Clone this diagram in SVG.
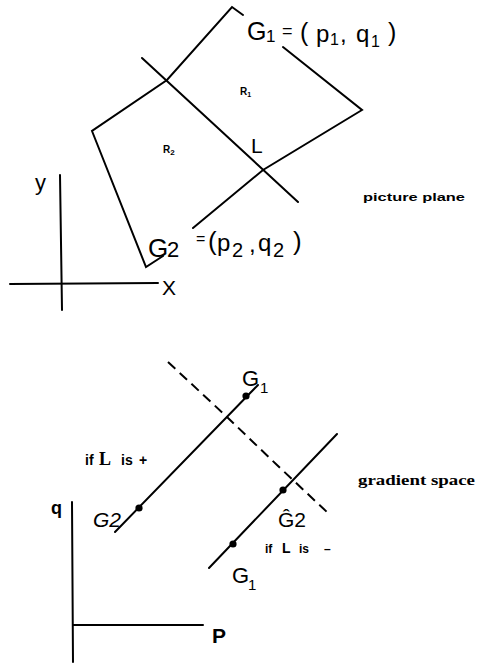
<svg xmlns="http://www.w3.org/2000/svg" width="477" height="663" viewBox="0 0 477 663">
<style>
.ln{fill:none;stroke:#000;stroke-width:2;stroke-linecap:round;stroke-linejoin:miter}
.dash{fill:none;stroke:#000;stroke-width:2;stroke-dasharray:10 6}
.let{font-family:"Liberation Sans","DejaVu Sans",sans-serif;fill:#000}
.bold{font-family:"Liberation Sans","DejaVu Sans",sans-serif;font-weight:bold;fill:#000}
.serif{font-family:"Liberation Serif","DejaVu Serif",serif;font-weight:bold;fill:#000}
</style>
<rect width="477" height="663" fill="#fff"/>
<g id="picture-plane">
<polyline class="ln" points="243,15 232,7 167,80 92,131 146,267 163,256"/>
<polyline class="ln" points="283,47 362,110 263,170 193,228"/>
<line class="ln" x1="142" y1="58" x2="298" y2="202"/>
<line class="ln" x1="60" y1="175" x2="62" y2="310"/>
<line class="ln" x1="10" y1="284" x2="158" y2="283"/>
<text class="let" font-size="25"><tspan x="247" y="40">G</tspan><tspan x="266" y="42" font-size="17">1</tspan><tspan x="282" y="37" font-size="18">=</tspan><tspan x="300" y="41">(</tspan><tspan x="316" y="42" font-size="24">p</tspan><tspan x="330" y="45" font-size="16">1</tspan><tspan x="340" y="42" font-size="24">,</tspan><tspan x="356" y="42" font-size="24">q</tspan><tspan x="371" y="47" font-size="16">1</tspan><tspan x="388" y="41">)</tspan></text>
<text class="bold" font-size="10" x="240" y="95">R<tspan font-size="7" dy="2">1</tspan></text>
<text class="bold" font-size="10" x="163" y="153">R<tspan font-size="8" dy="2">2</tspan></text>
<text class="let" font-size="21" x="251" y="153">L</text>
<text class="bold" font-size="11" x="363" y="201" textLength="102" lengthAdjust="spacingAndGlyphs">picture plane</text>
<text class="let" font-size="26"><tspan x="148" y="257">G</tspan><tspan x="167" y="257" font-size="22">2</tspan><tspan x="196" y="244" font-size="16">=</tspan><tspan x="208" y="250">(</tspan><tspan x="217" y="251" font-size="24">p</tspan><tspan x="232" y="257" font-size="20">2</tspan><tspan x="249" y="252" font-size="24">,</tspan><tspan x="258" y="251" font-size="24">q</tspan><tspan x="273" y="257" font-size="20">2</tspan><tspan x="293" y="250">)</tspan></text>
<text class="let" font-size="22" x="35" y="190">y</text>
<text class="let" font-size="21" x="162" y="295">X</text>
</g>
<g id="gradient-space">
<polyline class="dash" points="168,362 227,417 277,465 328,513"/>
<line class="ln" x1="115" y1="532" x2="258" y2="385"/>
<line class="ln" x1="209" y1="568" x2="337" y2="434"/>
<circle cx="139" cy="508" r="3.6"/>
<circle cx="246" cy="396" r="3.6"/>
<circle cx="283" cy="490" r="3.6"/>
<circle cx="233" cy="544" r="3.6"/>
<line class="ln" x1="72" y1="502" x2="73" y2="662"/>
<line class="ln" x1="73" y1="625" x2="203" y2="625"/>
<text class="let" font-size="22" x="242" y="386">G<tspan x="260" y="393" font-size="15">1</tspan></text>
<text class="let" font-size="22" x="232" y="583">G<tspan x="248" y="590" font-size="15">1</tspan></text>
<text class="bold" font-size="14"><tspan x="85" y="465">if</tspan><tspan class="serif" font-size="18" x="99" y="465">L</tspan><tspan x="121" y="465">is</tspan><tspan x="139" y="465">+</tspan></text>
<text class="bold" font-size="12"><tspan x="265" y="553">if</tspan><tspan font-size="14" x="282" y="553">L</tspan><tspan x="299" y="553">is</tspan><tspan x="324" y="553">–</tspan></text>
<text class="let" font-size="21" font-style="italic" x="93" y="527">G2</text>
<text class="let" font-size="21" x="278" y="527">Ĝ2</text>
<text class="serif" font-size="15" x="358" y="485" textLength="117" lengthAdjust="spacingAndGlyphs">gradient space</text>
<text class="bold" font-size="18" x="51" y="514">q</text>
<text class="bold" font-size="21" x="212" y="643">P</text>
</g>
</svg>
